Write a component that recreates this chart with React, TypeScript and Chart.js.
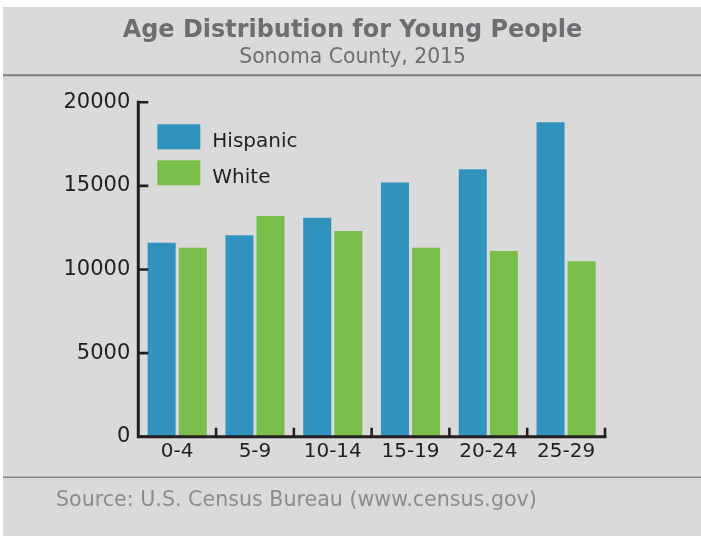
import React, { useEffect, useRef } from "react";
import { Chart, registerables } from "chart.js";

Chart.register(...registerables);

const TITLE = "Age Distribution for Young People";
const SUBTITLE = "Sonoma County, 2015";
const SOURCE = "Source: U.S. Census Bureau (www.census.gov)";

const categories = ["0-4", "5-9", "10-14", "15-19", "20-24", "25-29"];
const seriesNames = ["Hispanic", "White"];
const hispanic = [11600, 12050, 13100, 15200, 16000, 18800];
const white = [11300, 13200, 12300, 11300, 11100, 10500];
const yTickValues = [0, 5000, 10000, 15000, 20000];

const FONT = '"DejaVu Sans", sans-serif';
const INK = "#231f20";
const BG = "#dadada";
const BLUE = "#3192be";
const GREEN = "#79be4b";

function drawFitted(
  ctx: CanvasRenderingContext2D,
  text: string,
  weight: string,
  base: number,
  target: number,
  x: number,
  y: number,
  align: CanvasTextAlign,
  color: string
) {
  ctx.font = `${weight} ${base}px ${FONT}`;
  const w = ctx.measureText(text).width;
  let size = (base * target) / w;
  size = Math.max(base * 0.8, Math.min(base * 1.2, size));
  ctx.font = `${weight} ${size}px ${FONT}`;
  ctx.fillStyle = color;
  ctx.textAlign = align;
  ctx.textBaseline = "alphabetic";
  ctx.fillText(text, x, y);
}

const decorPlugin = {
  id: "decor",
  afterDatasetsDraw(chart: any) {
    const { ctx, chartArea, scales } = chart;
    const { left, right, bottom } = chartArea;
    const x = scales.x;
    const y = scales.y;
    ctx.save();
    ctx.strokeStyle = INK;
    ctx.lineWidth = 3;
    ctx.lineJoin = "miter";
    ctx.lineCap = "butt";
    const yTop = y.getPixelForValue(yTickValues[yTickValues.length - 1]);
    ctx.beginPath();
    ctx.moveTo(left, yTop - 1.5);
    ctx.lineTo(left, bottom);
    ctx.lineTo(right + 1.5, bottom);
    ctx.stroke();
    ctx.lineWidth = 2.6;
    ctx.beginPath();
    for (const v of yTickValues) {
      const py = y.getPixelForValue(v);
      ctx.moveTo(left, py);
      ctx.lineTo(left + 10, py);
    }
    for (let i = 0; i < categories.length; i++) {
      const px = x.getPixelForValue(i + 0.5);
      ctx.moveTo(px, bottom);
      ctx.lineTo(px, bottom - 9);
    }
    ctx.stroke();

    // legend inside the plot
    const ds = chart.data.datasets;
    ds.forEach((d: any, i: number) => {
      const bx = left + 19;
      const by = chartArea.top + 22 + i * 36;
      ctx.fillStyle = d.backgroundColor;
      ctx.fillRect(bx, by, 43, 25);
      ctx.fillStyle = INK;
      ctx.font = `normal 20px ${FONT}`;
      ctx.textAlign = "left";
      ctx.textBaseline = "alphabetic";
      ctx.fillText(d.label, bx + 55, by + 23);
    });
    ctx.restore();
  },
  afterDraw(chart: any) {
    const { ctx } = chart;
    ctx.save();
    drawFitted(ctx, TITLE, "bold", 24, 460, 349.5, 29.7, "center", "#6d6e71");
    drawFitted(ctx, SUBTITLE, "normal", 20, 227, 349.6, 56.3, "center", "#6d6e71");
    drawFitted(ctx, SOURCE, "normal", 20, 481, 53, 499, "left", "#8c8c8c");
    ctx.strokeStyle = "#7d7d7d";
    ctx.lineWidth = 2;
    ctx.beginPath();
    ctx.moveTo(0, 68.3);
    ctx.lineTo(chart.width, 68.3);
    ctx.stroke();
    ctx.lineWidth = 1.6;
    ctx.strokeStyle = "#858585";
    ctx.beginPath();
    ctx.moveTo(0, 470.3);
    ctx.lineTo(chart.width, 470.3);
    ctx.stroke();
    ctx.restore();
  },
};

export default function App() {
  const ref = useRef<HTMLCanvasElement | null>(null);

  useEffect(() => {
    if (!ref.current) return;
    const chart = new Chart(ref.current, {
      type: "bar",
      data: {
        labels: categories,
        datasets: [
          { label: seriesNames[0], data: hispanic, backgroundColor: BLUE, borderWidth: 0 },
          { label: seriesNames[1], data: white, backgroundColor: GREEN, borderWidth: 0 },
        ],
      },
      options: {
        responsive: false,
        animation: false,
        devicePixelRatio: 1,
        layout: { padding: { left: 55.3, right: 96, top: 95.3, bottom: 59.3 } },
        plugins: {
          legend: { display: false },
          title: { display: false },
          tooltip: { enabled: false },
        },
        scales: {
          x: {
            grid: { display: false, drawTicks: false },
            border: { display: false },
            ticks: { color: INK, font: { size: 20, family: FONT }, padding: 3 },
            afterFit: (s: any) => {
              s.height = 40;
            },
          },
          y: {
            min: 0,
            max: 20000,
            grid: { display: false, drawTicks: false },
            border: { display: false },
            ticks: {
              stepSize: 5000,
              color: INK,
              font: { size: 21, family: FONT },
              padding: 8,
              callback: (v: any) => String(v),
            },
            afterFit: (s: any) => {
              s.width = 80;
            },
          },
        },
      },
      plugins: [decorPlugin],
    });
    return () => chart.destroy();
  }, []);

  return (
    <div
      style={{
        position: "fixed",
        left: 3,
        top: 7,
        width: 698,
        height: 529,
        background: BG,
      }}
    >
      <canvas ref={ref} width={698} height={529} style={{ display: "block", width: 698, height: 529 }} />
    </div>
  );
}
